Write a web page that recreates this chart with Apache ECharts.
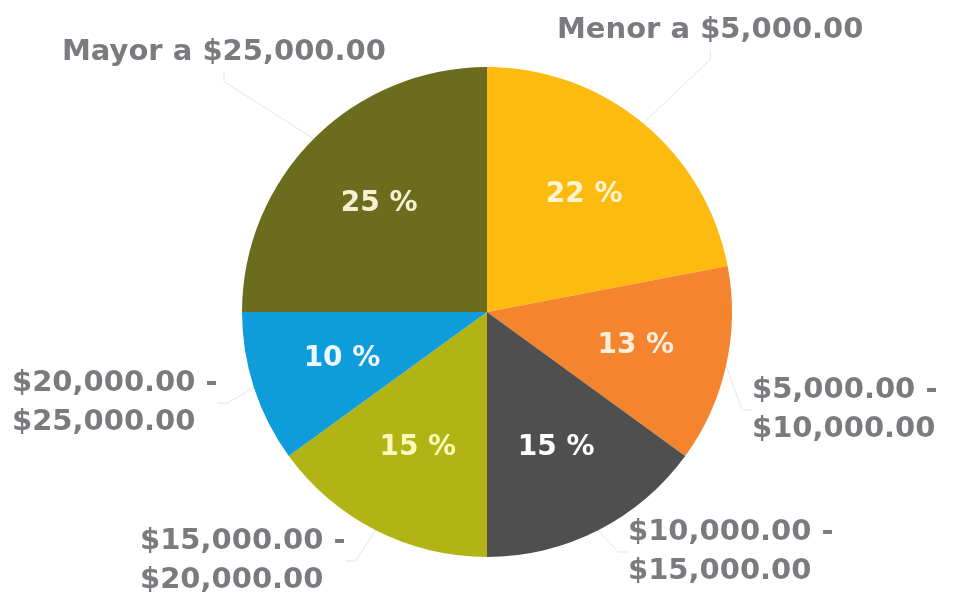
<!DOCTYPE html>
<html>
<head>
<meta charset="utf-8">
<script src="https://cdn.jsdelivr.net/npm/echarts@6/dist/echarts.min.js"></script>
<style>
  html, body { margin: 0; padding: 0; background: #fff; }
  #chart { width: 959px; height: 609px; }
</style>
</head>
<body>
<div id="chart"></div>
<script>
// rangos de ingreso y porcentaje
var categories = ['Menor a $5,000.00', '$5,000.00 -\n$10,000.00', '$10,000.00 -\n$15,000.00',
  '$15,000.00 -\n$20,000.00', '$20,000.00 -\n$25,000.00', 'Mayor a $25,000.00'];
var values = [22, 13, 15, 15, 10, 25];
var colors = ['#fdbb10', '#f5842f', '#4f4f50', '#b1b414', '#0e9cda', '#6b6c1e'];
var pctColors = ['#fff6d0', '#ffeedd', '#ffffff', '#fdf9b8', '#eef8ff', '#f2f1d2'];

// donde va cada etiqueta de texto (izquierda, centro vertical)
var labelPos = [[557, 30], [752, 410], [628, 552], [140, 561], [12, 403], [62, 52]];

var ctr = [487, 312], R = 245;
var font = 'DejaVu Sans';

var mainData = [], pctData = [];
for (var i = 0; i < values.length; i++) {
  mainData.push({ name: categories[i], value: values[i], itemStyle: { color: colors[i] } });
  pctData.push({ name: categories[i], value: values[i], label: { color: pctColors[i] } });
}

var chart = echarts.init(document.getElementById('chart'));
chart.setOption({
  animation: false,
  series: [{
    type: 'pie',
    center: ctr,
    radius: [0, R],
    startAngle: 90,
    clockwise: true,
    silent: true,
    data: mainData,
    label: {
      show: true,
      position: 'outside',
      formatter: '{b}',
      overflow: 'none',
      fontFamily: font,
      fontWeight: 'bold',
      fontSize: 29,
      lineHeight: 39,
      color: '#7a7b7e'
    },
    labelLine: {
      show: true,
      length: 10,
      length2: 10,
      lineStyle: { color: '#e6e6e6', width: 1 }
    },
    labelLayout: function (p) {
      var pos = labelPos[p.dataIndex];
      return { x: pos[0], y: pos[1], align: 'left', verticalAlign: 'middle' };
    }
  }, {
    type: 'pie',
    center: ctr,
    radius: [R * 0.22, R],
    startAngle: 90,
    clockwise: true,
    silent: true,
    data: pctData,
    itemStyle: { color: 'rgba(0,0,0,0)' },
    label: {
      show: true,
      position: 'inside',
      formatter: '{c} %',
      fontFamily: font,
      fontWeight: 'bold',
      fontSize: 28
    },
    labelLine: { show: false }
  }]
});
</script>
</body>
</html>
